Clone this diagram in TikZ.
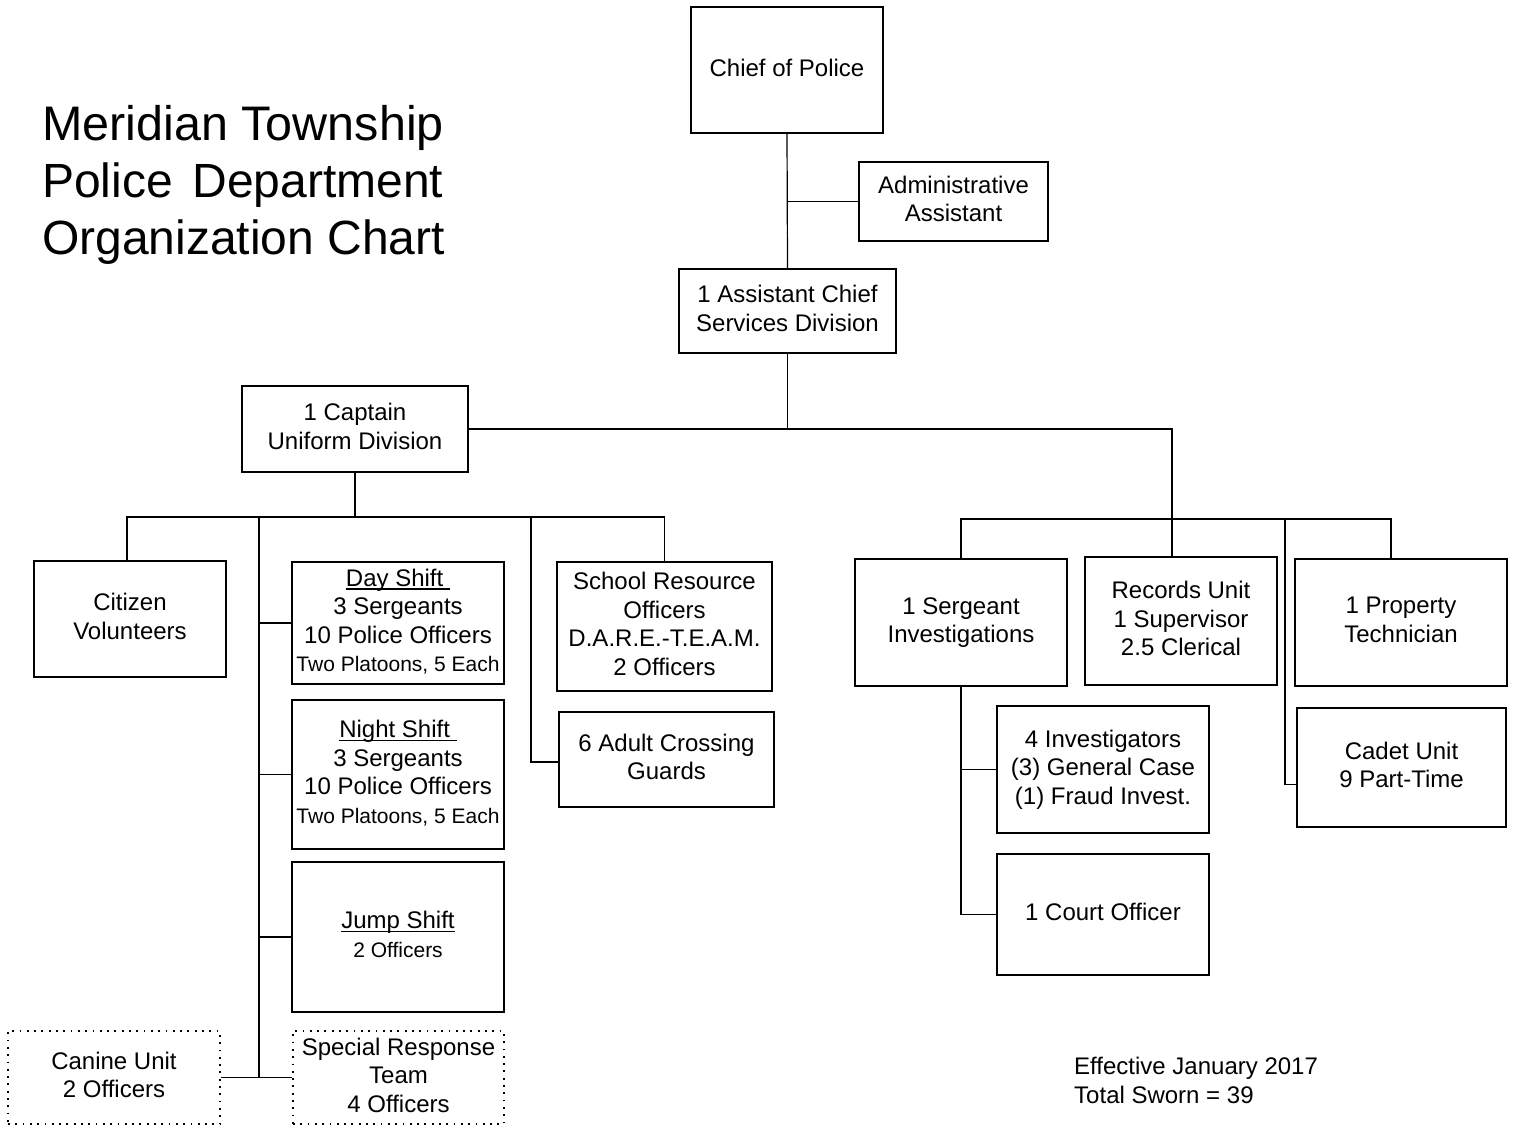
\documentclass[tikz,border=0pt]{standalone}
\usepackage{fontspec}
\setmainfont{Liberation Sans}
\newcommand{\smalltxt}{\fontsize{21}{26}\selectfont}
\newcommand{\ulin}[1]{\leavevmode\setbox0\hbox{#1}\rlap{\rule[-3.2pt]{\wd0}{1.4pt}}\box0}
\begin{document}
\begin{tikzpicture}[x=1pt,y=-1pt,
  box/.style={draw, line width=2pt, inner sep=0pt, align=center, font=\fontsize{24}{28.5}\selectfont,
    execute at end node={\rule[-5.2pt]{0pt}{5.2pt}}},
  dotbox/.style={box, line width=1.8pt, dash pattern=on 1.8pt off 5.5pt},
  link/.style={line width=1.2pt}]
\useasboundingbox (0,0) rectangle (1517,1127);
% title
\node[anchor=west, align=left, inner sep=0pt, font=\fontsize{48}{57}\selectfont] (title) at (42,185)
  {{\fontsize{48.5}{57}\selectfont Meridian Township}\\\makebox[401pt][s]{Police Department}\\Organization Chart};
% boxes
\node[box, minimum width=192pt, minimum height=126pt] (chief) at (787,70) {Chief of Police};
\node[box, minimum width=189pt, minimum height=79pt] (admin) at (953.5,201.5) {Administrative\\Assistant};
\node[box, minimum width=217pt, minimum height=84pt] (asst) at (787.5,311) {1 Assistant Chief\\Services Division};
\node[box, minimum width=226pt, minimum height=86pt] (cap) at (355,429) {1 Captain\\Uniform Division};
\node[box, minimum width=192pt, minimum height=116pt] (cit) at (130,619) {Citizen\\Volunteers};
\node[box, minimum width=212pt, minimum height=122pt] (day) at (398,623) {\ulin{Day Shift\ }\\3 Sergeants\\10 Police Officers\\\smalltxt Two Platoons, 5 Each};
\node[box, minimum width=212pt, minimum height=149pt] (night) at (398,774.5) {\ulin{Night Shift\ }\\3 Sergeants\\10 Police Officers\\\smalltxt Two Platoons, 5 Each};
\node[box, minimum width=212pt, minimum height=150pt] (jump) at (398,937) {\ulin{Jump Shift}\\\smalltxt 2 Officers};
\node[dotbox, minimum width=212pt, minimum height=93pt] (canine) at (114,1077.5) {Canine Unit\\2 Officers};
\node[dotbox, minimum width=211pt, minimum height=93pt] (srt) at (398.5,1077.5) {Special Response\\Team\\4 Officers};
\node[box, minimum width=215pt, minimum height=129pt] (school) at (664.5,626.5) {School Resource\\Officers\\D.A.R.E.-T.E.A.M.\\2 Officers};
\node[box, minimum width=215pt, minimum height=95pt] (cross) at (666.5,759.5) {6 Adult Crossing\\Guards};
\node[box, minimum width=212pt, minimum height=127pt] (sgt) at (961,622.5) {1 Sergeant\\Investigations};
\node[box, minimum width=192pt, minimum height=128pt] (rec) at (1181,621) {Records Unit\\1 Supervisor\\2.5 Clerical};
\node[box, minimum width=212pt, minimum height=127pt] (prop) at (1401,622.5) {1 Property\\Technician};
\node[box, minimum width=212pt, minimum height=127pt] (inv) at (1103,769.5) {4 Investigators\\(3) General Case\\(1) Fraud Invest.};
\node[box, minimum width=212pt, minimum height=121pt] (court) at (1103,914.5) {1 Court Officer};
\node[box, minimum width=209pt, minimum height=119pt] (cadet) at (1401.5,767.5) {Cadet Unit\\9 Part-Time};
% footer
\node[anchor=west, align=left, inner sep=0pt, font=\fontsize{24}{29}\selectfont] (foot) at (1074,1080) {Effective January 2017\\Total Sworn = 39};
% connectors
\draw[link] (chief.south) -- (asst.north);
\draw[link] (chief.south |- admin.west) -- (admin.west);
\coordinate (rj) at (1172,519);
\coordinate (cj) at (1285,519);
\draw[link] (asst.south) -- (asst.south |- cap.east);
\draw[link] (cap.east) -| (rj);
\draw[link] (rj) -- (rj |- rec.north);
\draw[link] (sgt.north) |- (rj);
\draw[link] (rj) -| ([xshift=-10pt]prop.north);
\draw[link] (cj) |- ([yshift=-17pt]cadet.west);
\draw[link] (sgt.south) |- (inv.west);
\draw[link] (sgt.south) |- (court.west);
\coordinate (lj) at (355,517);
\coordinate (sv) at (259,517);
\coordinate (cv) at (531,517);
\draw[link] (cap.south) -- (lj);
\draw[link] ([xshift=-3pt]cit.north) |- (lj) -| (school.north);
\draw[link] (sv) -- (sv |- srt.west);
\draw[link] (sv |- day.west) -- (day.west);
\draw[link] (sv |- night.west) -- (night.west);
\draw[link] (sv |- jump.west) -- (jump.west);
\draw[link] (canine.east) -- (srt.west);
\draw[link] (cv) |- ([yshift=-2.5pt]cross.west);
\end{tikzpicture}
\end{document}
